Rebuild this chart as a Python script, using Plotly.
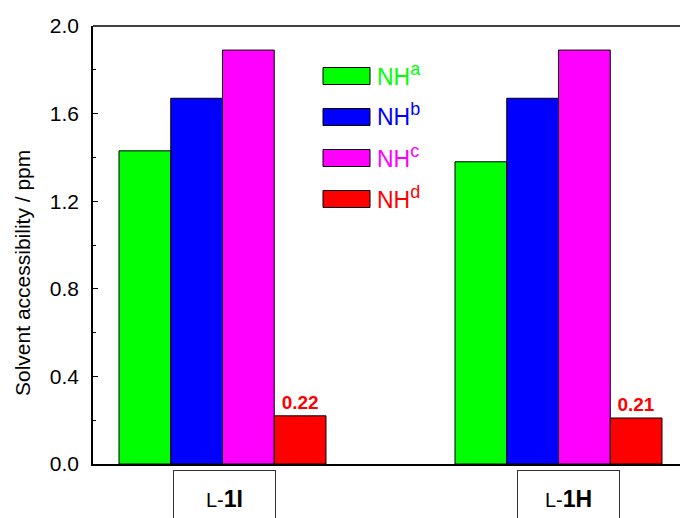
import plotly.graph_objects as go

# ---- data ----
groups = [1, 2]
group_labels = ['<span style="font-size:20px">L-</span><b>1I</b>',
                '<span style="font-size:20px">L-</span><b>1H</b>']
series_names = ["a", "b", "c", "d"]
series_colors = ["#00ff00", "#0000ff", "#ff00ff", "#ff0000"]
nh_a = [1.43, 1.38]
nh_b = [1.67, 1.67]
nh_c = [1.89, 1.89]
nh_d = [0.22, 0.21]
nh_d_labels = ["0.22", "0.21"]
y_ticks = [0.0, 0.4, 0.8, 1.2, 1.6, 2.0]
y_title = "Solvent accessibility / ppm"

W, H = 680, 518
ML, MT, MB, MR = 93, 26, 54, 0
PW, PH = W - ML - MR, H - MT - MB

def px(x):
    return (x - ML) / PW

def py(y):
    return (H - MB - y) / PH

FONT = "Arial, Liberation Sans, sans-serif"

fig = go.Figure()
values = [nh_a, nh_b, nh_c, nh_d]
for name, col, vals in zip(series_names, series_colors, values):
    kw = {}
    if name == "d":
        kw = dict(text=nh_d_labels, textposition="outside",
                  textfont=dict(family=FONT, size=19, color="#ff0000"),
                  texttemplate="<b>%{text}</b>", cliponaxis=False)
    fig.add_trace(go.Bar(x=groups, y=vals, name="NH" + name,
                         marker=dict(color=col, line=dict(color="black", width=1)),
                         showlegend=False, hoverinfo="skip", **kw))

shapes = []
annotations = []
# top frame line
shapes.append(dict(type="line", xref="paper", yref="paper", x0=0, x1=1, y0=1, y1=1,
                   line=dict(color="black", width=1.5)))

# manual legend
leg_y = [76, 117, 158, 199]
for name, col, yy in zip(series_names, series_colors, leg_y):
    shapes.append(dict(type="rect", xref="paper", yref="paper",
                       x0=px(323), x1=px(370), y0=py(yy + 8.5), y1=py(yy - 8.5),
                       fillcolor=col, line=dict(color="black", width=1)))
    annotations.append(dict(xref="paper", yref="paper", x=px(375), y=py(yy - 2),
                            xanchor="left", yanchor="middle", showarrow=False,
                            text=f'NH<sup><span style="font-size:18px">{name}</span></sup>',
                            font=dict(family=FONT, size=23, color=col)))

# category label boxes
shifts = [2, 10]
for g, lab, sh in zip(groups, group_labels, shifts):
    annotations.append(dict(xref="x", yref="paper", x=g, y=0, xshift=sh, yshift=-6,
                            xanchor="center", yanchor="top", showarrow=False,
                            text=lab, width=101, height=56, valign="middle",
                            bordercolor="#333333", borderwidth=1, borderpad=0,
                            font=dict(family=FONT, size=23, color="black")))

# y-axis title (placed slightly below centre as in the reference)
annotations.append(dict(xref="paper", yref="paper", x=px(22), y=py(273),
                        xanchor="center", yanchor="middle", showarrow=False,
                        textangle=-90, text=y_title,
                        font=dict(family=FONT, size=21, color="black")))

fig.update_layout(
    width=W, height=H,
    margin=dict(l=ML, r=MR, t=MT, b=MB),
    paper_bgcolor="white", plot_bgcolor="white",
    barmode="group", bargap=0.384, bargroupgap=0,
    shapes=shapes, annotations=annotations,
    font=dict(family=FONT, color="black"),
    xaxis=dict(range=[0.6146, 2.3616], showticklabels=False, ticks="",
               showgrid=False, zeroline=False, showline=True,
               linecolor="black", linewidth=1.5),
    yaxis=dict(range=[0, 2.0], tickvals=y_ticks, tickformat=".1f",
               ticks="inside", ticklen=5, tickwidth=1.2, tickcolor="black",
               minor=dict(dtick=0.2, tick0=0, ticks="inside", ticklen=3, tickcolor="black"),
               showgrid=False, zeroline=False, showline=True,
               linecolor="black", linewidth=1.5, ticklabelstandoff=8,
               tickfont=dict(family=FONT, size=21, color="black")),
)

fig.write_html("out.html", config={"displayModeBar": False},
               post_script="document.body.style.margin='0';document.body.style.padding='0';")
